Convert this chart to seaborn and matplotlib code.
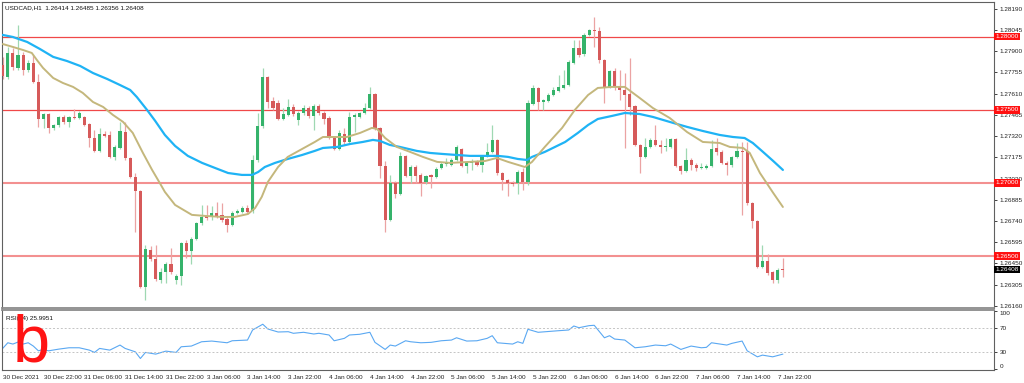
import numpy as np
import pandas as pd
import matplotlib
matplotlib.use("Agg")
import matplotlib.pyplot as plt
import matplotlib.transforms as mtransforms
import seaborn as sns

# USDCAD H1 candles (bar 0 = 30 Dec 14:00)
opens = [
    1.27806, 1.27724, 1.27888, 1.27786, 1.27874, 1.27772, 1.27820, 1.27690, 1.27437, 1.27471,
    1.27376, 1.27396, 1.27451, 1.27417, 1.27451, 1.27444, 1.27451, 1.27403, 1.27307, 1.27219,
    1.27335, 1.27328, 1.27178, 1.27239, 1.27348, 1.27171, 1.27041, 1.26945, 1.26290, 1.26542,
    1.26481, 1.26338, 1.26392, 1.26447, 1.26338, 1.26365, 1.26590, 1.26536, 1.26618, 1.26727,
    1.26775, 1.26768, 1.26795, 1.26782, 1.26754, 1.26713, 1.26795, 1.26802, 1.26829, 1.26809,
    1.27157, 1.27389, 1.27724, 1.27560, 1.27547, 1.27437, 1.27465, 1.27519, 1.27430, 1.27478,
    1.27512, 1.27458, 1.27526, 1.27478, 1.27444, 1.27307, 1.27232, 1.27335, 1.27280, 1.27451,
    1.27451, 1.27478, 1.27512, 1.27608, 1.27376, 1.27116, 1.26747, 1.27000, 1.26925, 1.27185,
    1.27048, 1.27109, 1.27055, 1.27007, 1.27055, 1.27041, 1.27103, 1.27130, 1.27123, 1.27157,
    1.27232, 1.27116, 1.27137, 1.27150, 1.27123, 1.27185, 1.27212, 1.27294, 1.27068, 1.27021,
    1.27000, 1.27000, 1.27075, 1.27007, 1.27540, 1.27649, 1.27553, 1.27560, 1.27601, 1.27628,
    1.27649, 1.27669, 1.27820, 1.27922, 1.27881, 1.28011, 1.28045, 1.28038, 1.27840, 1.27656,
    1.27765, 1.27656, 1.27635, 1.27608, 1.27526, 1.27260, 1.27178, 1.27246, 1.27294, 1.27260,
    1.27246, 1.27246, 1.27301, 1.27116, 1.27082, 1.27157, 1.27123, 1.27103, 1.27103, 1.27116,
    1.27239, 1.27212, 1.27137, 1.27123, 1.27178, 1.27219, 1.27219, 1.26864, 1.26741, 1.26426,
    1.26467, 1.26392, 1.26338, 1.26414]

closes = [
    1.27731, 1.27888, 1.27792, 1.27874, 1.27772, 1.27820, 1.27690, 1.27437, 1.27471, 1.27376,
    1.27396, 1.27451, 1.27417, 1.27451, 1.27444, 1.27478, 1.27396, 1.27307, 1.27219, 1.27335,
    1.27321, 1.27178, 1.27246, 1.27355, 1.27171, 1.27041, 1.26945, 1.26290, 1.26549, 1.26481,
    1.26344, 1.26392, 1.26447, 1.26392, 1.26365, 1.26590, 1.26536, 1.26618, 1.26727, 1.26768,
    1.26761, 1.26795, 1.26775, 1.26747, 1.26713, 1.26795, 1.26809, 1.26829, 1.26802, 1.27157,
    1.27389, 1.27724, 1.27553, 1.27512, 1.27437, 1.27471, 1.27519, 1.27471, 1.27478, 1.27512,
    1.27458, 1.27526, 1.27478, 1.27437, 1.27307, 1.27232, 1.27342, 1.27280, 1.27451, 1.27465,
    1.27478, 1.27512, 1.27608, 1.27376, 1.27116, 1.26747, 1.27000, 1.26925, 1.27185, 1.27048,
    1.27109, 1.27048, 1.27000, 1.27048, 1.27041, 1.27096, 1.27130, 1.27137, 1.27157, 1.27246,
    1.27116, 1.27137, 1.27150, 1.27123, 1.27185, 1.27212, 1.27294, 1.27068, 1.27021, 1.27000,
    1.26993, 1.27075, 1.27007, 1.27547, 1.27649, 1.27553, 1.27567, 1.27601, 1.27635, 1.27656,
    1.27669, 1.27827, 1.27922, 1.27874, 1.28011, 1.28045, 1.28038, 1.27840, 1.27656, 1.27765,
    1.27656, 1.27635, 1.27601, 1.27519, 1.27260, 1.27178, 1.27246, 1.27294, 1.27260, 1.27246,
    1.27253, 1.27301, 1.27116, 1.27082, 1.27157, 1.27123, 1.27103, 1.27109, 1.27116, 1.27232,
    1.27212, 1.27137, 1.27123, 1.27178, 1.27219, 1.27212, 1.26864, 1.26741, 1.26426, 1.26467,
    1.26385, 1.26338, 1.26406, 1.26408]

highs = [
    1.27861, 1.27929, 1.27922, 1.28079, 1.27895, 1.27840, 1.27874, 1.27745, 1.27478, 1.27478,
    1.27403, 1.27458, 1.27465, 1.27458, 1.27506, 1.27492, 1.27458, 1.27410, 1.27362, 1.27376,
    1.27355, 1.27355, 1.27260, 1.27417, 1.27417, 1.27178, 1.27068, 1.26952, 1.26577, 1.26570,
    1.26577, 1.26420, 1.26461, 1.26556, 1.26379, 1.26597, 1.26611, 1.26631, 1.26734, 1.26850,
    1.26850, 1.26843, 1.26870, 1.26864, 1.26768, 1.26809, 1.26823, 1.26843, 1.26850, 1.27191,
    1.27478, 1.27786, 1.27731, 1.27587, 1.27567, 1.27512, 1.27574, 1.27540, 1.27492, 1.27533,
    1.27526, 1.27540, 1.27540, 1.27492, 1.27458, 1.27314, 1.27362, 1.27376, 1.27485, 1.27478,
    1.27485, 1.27547, 1.27656, 1.27615, 1.27383, 1.27150, 1.27055, 1.27014, 1.27212, 1.27191,
    1.27123, 1.27123, 1.27068, 1.27055, 1.27062, 1.27109, 1.27144, 1.27171, 1.27171, 1.27260,
    1.27239, 1.27144, 1.27164, 1.27157, 1.27191, 1.27273, 1.27396, 1.27301, 1.27075, 1.27027,
    1.27014, 1.27089, 1.27103, 1.27567, 1.27669, 1.27656, 1.27574, 1.27615, 1.27656, 1.27738,
    1.27772, 1.27840, 1.27977, 1.27977, 1.28025, 1.28052, 1.28134, 1.28066, 1.27847, 1.27772,
    1.27786, 1.27772, 1.27751, 1.27854, 1.27533, 1.27266, 1.27307, 1.27307, 1.27396, 1.27294,
    1.27307, 1.27307, 1.27307, 1.27123, 1.27239, 1.27171, 1.27137, 1.27137, 1.27130, 1.27294,
    1.27307, 1.27225, 1.27150, 1.27185, 1.27273, 1.27280, 1.27280, 1.26870, 1.26747, 1.26577,
    1.26515, 1.26399, 1.26420, 1.26485]

lows = [
    1.27710, 1.27710, 1.27772, 1.27772, 1.27738, 1.27758, 1.27683, 1.27383, 1.27376, 1.27342,
    1.27362, 1.27383, 1.27403, 1.27383, 1.27437, 1.27437, 1.27389, 1.27246, 1.27212, 1.27212,
    1.27314, 1.27171, 1.27157, 1.27232, 1.27157, 1.27034, 1.26665, 1.26283, 1.26201, 1.26467,
    1.26331, 1.26317, 1.26317, 1.26379, 1.26310, 1.26303, 1.26488, 1.26447, 1.26611, 1.26713,
    1.26747, 1.26747, 1.26761, 1.26734, 1.26665, 1.26706, 1.26788, 1.26795, 1.26795, 1.26795,
    1.27144, 1.27376, 1.27512, 1.27499, 1.27430, 1.27430, 1.27458, 1.27458, 1.27396, 1.27465,
    1.27444, 1.27362, 1.27465, 1.27403, 1.27301, 1.27225, 1.27225, 1.27266, 1.27273, 1.27348,
    1.27444, 1.27471, 1.27506, 1.27362, 1.27034, 1.26665, 1.26741, 1.26898, 1.26918, 1.27041,
    1.27000, 1.27000, 1.26911, 1.26993, 1.26966, 1.27034, 1.27096, 1.27116, 1.27116, 1.27150,
    1.27109, 1.27068, 1.27089, 1.27116, 1.27075, 1.27178, 1.27205, 1.27055, 1.26952, 1.26911,
    1.26980, 1.26925, 1.26952, 1.26986, 1.27533, 1.27499, 1.27499, 1.27553, 1.27594, 1.27622,
    1.27642, 1.27663, 1.27813, 1.27861, 1.27868, 1.28004, 1.27929, 1.27820, 1.27547, 1.27649,
    1.27635, 1.27567, 1.27239, 1.27465, 1.27253, 1.27068, 1.27171, 1.27239, 1.27253, 1.27205,
    1.27219, 1.27239, 1.27109, 1.27062, 1.27075, 1.27089, 1.27082, 1.27096, 1.27096, 1.27109,
    1.27191, 1.27130, 1.27055, 1.27109, 1.27171, 1.26782, 1.26850, 1.26693, 1.26420, 1.26420,
    1.26372, 1.26317, 1.26317, 1.26356]

# slow moving average (blue), read at these bar positions
slow_bars = [0, 2.0, 4.8, 7.3, 9.9, 12.6, 15.2, 17.7, 20.5, 23.0,
             25.0, 26.3, 28.3, 29.9, 31.8, 33.8, 36.3, 39.1, 41.6, 44.2,
             46.9, 48.9, 50.1, 51.4, 53.4, 55.9, 58.7, 61.2, 62.8, 65.6,
             68.1, 70.6, 72.6, 74.0, 75.9, 77.9, 81.2, 83.8, 86.3, 89.1,
             91.6, 94.6, 97.1, 99.1, 101.0, 102.8, 103.8, 106.3, 110.3, 112.8,
             114.8, 116.7, 119.5, 122.0, 124.9, 127.5, 130.8, 134.2, 137.3, 140.6,
             143.2, 145.5, 147.1, 149.1, 151.1, 153]
slow_ma = [1.28011, 1.27997, 1.27963, 1.27915, 1.27861, 1.27833, 1.27799, 1.27751, 1.27710, 1.27669,
           1.27635, 1.27587, 1.27499, 1.27424, 1.27328, 1.27253, 1.27185, 1.27137, 1.27103, 1.27068,
           1.27055, 1.27055, 1.27075, 1.27109, 1.27137, 1.27164, 1.27191, 1.27219, 1.27239, 1.27246,
           1.27266, 1.27280, 1.27294, 1.27287, 1.27260, 1.27246, 1.27219, 1.27205, 1.27198, 1.27191,
           1.27185, 1.27185, 1.27185, 1.27178, 1.27164, 1.27157, 1.27178, 1.27212, 1.27280, 1.27342,
           1.27396, 1.27437, 1.27458, 1.27478, 1.27471, 1.27451, 1.27417, 1.27383, 1.27355, 1.27328,
           1.27314, 1.27307, 1.27273, 1.27212, 1.27150, 1.27089]

# fast moving average (olive)
fast_bars = [0, 2.0, 4.0, 5.7, 6.7, 7.9, 9.9, 11.8, 13.8, 15.7,
             17.7, 19.7, 21.6, 23.6, 25.5, 27.5, 29.3, 30.8, 31.8, 33.8,
             37.1, 39.7, 43.0, 45.5, 48.1, 49.5, 50.8, 52.0, 54.0, 55.9,
             58.7, 61.2, 62.8, 64.8, 67.5, 70.1, 72.4, 73.4, 75.0, 77.3,
             79.9, 82.4, 85.2, 87.7, 91.6, 94.6, 96.9, 99.1, 102.4, 103.8,
             106.3, 109.7, 112.2, 114.8, 116.7, 119.5, 122.0, 124.9, 127.5, 130.8,
             134.2, 137.3, 140.6, 142.6, 145.2, 146.5, 148.5, 151.1, 153]
fast_ma = [1.27949, 1.27929, 1.27908, 1.27888, 1.27840, 1.27786, 1.27717, 1.27683, 1.27656, 1.27615,
           1.27553, 1.27519, 1.27465, 1.27417, 1.27342, 1.27205, 1.27089, 1.27000, 1.26939, 1.26850,
           1.26782, 1.26775, 1.26768, 1.26768, 1.26788, 1.26829, 1.26905, 1.27007, 1.27109, 1.27178,
           1.27232, 1.27280, 1.27314, 1.27314, 1.27314, 1.27342, 1.27376, 1.27369, 1.27307, 1.27246,
           1.27212, 1.27178, 1.27144, 1.27137, 1.27144, 1.27150, 1.27171, 1.27144, 1.27109, 1.27144,
           1.27246, 1.27376, 1.27499, 1.27601, 1.27649, 1.27656, 1.27656, 1.27581, 1.27512, 1.27444,
           1.27348, 1.27280, 1.27273, 1.27246, 1.27239, 1.27205, 1.27068, 1.26932, 1.26836]

# RSI(14)
rsi_bars = [0, 1, 2, 3, 4, 5, 6, 7, 8, 9, 11, 13, 15, 17, 18, 19, 21, 23, 24, 26,
            27, 28, 30, 32, 34, 35, 37, 39, 41, 44, 45, 48, 49, 51, 52, 54, 56, 57, 59, 61,
            62, 64, 65, 67, 68, 70, 72, 73, 75, 76, 77, 79, 80, 82, 84, 86, 88, 89, 91, 93,
            95, 96, 97, 100, 101, 102, 103, 105, 109, 111, 112, 113, 115, 116, 118, 119, 120, 122, 124, 126,
            128, 130, 131, 133, 135, 137, 138, 139, 142, 143, 145, 146, 148, 149, 151, 153]
rsi_vals = [35.7, 45.3, 43.1, 46.5, 43.1, 45.3, 39.7, 31.6, 34.0, 31.6, 34.5, 36.8, 36.8, 32.8, 28.9, 35.7, 32.8, 41.4, 35.7, 29.9,
            18.6, 28.9, 26.0, 31.1, 28.9, 38.5, 39.7, 47.0, 48.2, 45.3, 48.7, 49.9, 67.0, 76.8, 68.7, 63.6, 64.1, 61.4, 63.1, 60.2,
            61.4, 58.5, 48.7, 52.8, 58.5, 59.7, 63.1, 46.0, 34.0, 41.4, 39.7, 48.7, 47.0, 45.3, 46.0, 48.7, 49.9, 53.8, 48.2, 48.7,
            52.8, 57.3, 45.3, 43.1, 47.0, 44.3, 68.2, 63.1, 65.8, 67.0, 73.8, 70.9, 74.4, 75.0, 53.8, 57.3, 51.6, 49.9, 36.8, 38.5,
            41.4, 40.2, 43.1, 34.0, 39.7, 36.8, 37.5, 45.3, 41.4, 44.3, 48.2, 31.6, 21.4, 24.3, 21.4, 26.0]

levels = [1.28000, 1.27500, 1.27000, 1.26500]
price_ticks = [1.28190, 1.28045, 1.27900, 1.27755, 1.27610, 1.27465, 1.27320, 1.27175,
               1.27030, 1.26885, 1.26740, 1.26595, 1.26450, 1.26305, 1.26160]
date_bars = list(range(0, 153, 8))
date_labels = ["30 Dec 2021", "30 Dec 22:00", "31 Dec 06:00", "31 Dec 14:00", "31 Dec 22:00",
               "3 Jan 06:00", "3 Jan 14:00", "3 Jan 22:00", "4 Jan 06:00", "4 Jan 14:00",
               "4 Jan 22:00", "5 Jan 06:00", "5 Jan 14:00", "5 Jan 22:00", "6 Jan 06:00",
               "6 Jan 14:00", "6 Jan 22:00", "7 Jan 06:00", "7 Jan 14:00", "7 Jan 22:00"]

sns.set_style("white")
plt.rcParams['font.family'] = ['Liberation Sans', 'DejaVu Sans']
FS = 4.6

fig = plt.figure(figsize=(10.24, 3.83), dpi=100)
ax = fig.add_axes([2 / 1024, 75 / 383, 992 / 1024, 306 / 383])
ax_rsi = fig.add_axes([2 / 1024, 13 / 383, 992 / 1024, 60 / 383])

# candles
df = pd.DataFrame({'bar': np.arange(len(opens)), 'open': opens, 'high': highs,
                   'low': lows, 'close': closes})
up = df['close'] >= df['open']
body_col = np.where(up, '#35b36b', '#d65a5a')
wick_col = np.where(up, '#9fd8b2', '#eba3a3')
ax.vlines(df['bar'], df['low'], df['high'], colors=wick_col, lw=0.9, zorder=2)
body_bottom = np.minimum(df['open'], df['close'])
body_h = np.maximum((df['close'] - df['open']).abs(), 0.00003)
ax.bar(df['bar'], body_h, bottom=body_bottom, width=0.62, color=body_col, lw=0, zorder=3)

# moving averages
sns.lineplot(x=slow_bars, y=slow_ma, ax=ax, color='#1fb3f5', lw=1.6, sort=False, zorder=4)
sns.lineplot(x=fast_bars, y=fast_ma, ax=ax, color='#c4b77c', lw=1.4, sort=False, zorder=4)

# horizontal levels
for lv in levels:
    if lv >= 1.275:
        ax.axhline(lv, color='#f04848', lw=0.9, zorder=1)
    else:
        ax.axhline(lv, color='#f39090', lw=1.5, zorder=1)

ax.set_xlim(-0.14, 194.4)
ax.set_ylim(1.26146, 1.28236)
ax.set_xlabel('')
ax.set_ylabel('')
ax.set_xticks(date_bars)
ax.tick_params(axis='x', labelbottom=False, length=0)
ax.yaxis.tick_right()
ax.set_yticks(price_ticks)
ax.set_yticklabels([f"{t:.5f}" for t in price_ticks])
ax.tick_params(axis='y', labelsize=FS, length=2.5, width=0.6, pad=1.5, colors='#222222')

trans = mtransforms.blended_transform_factory(ax.transAxes, ax.transData)
for lv in levels:
    ax.text(1.0015, lv, f"{lv:.5f}", transform=trans, ha='left', va='center', fontsize=FS,
            color='white', clip_on=False, zorder=10,
            bbox=dict(boxstyle='square,pad=0.2', fc='#ff1010', ec='none'))
ax.text(1.0015, closes[-1], f"{closes[-1]:.5f}", transform=trans, ha='left', va='center',
        fontsize=FS, color='white', clip_on=False, zorder=10,
        bbox=dict(boxstyle='square,pad=0.2', fc='#000000', ec='none'))

ax.text(0.003, 0.988, f"USDCAD,H1  {opens[-1]:.5f} {highs[-1]:.5f} {lows[-1]:.5f} {closes[-1]:.5f}",
        transform=ax.transAxes, ha='left', va='top', fontsize=FS, color='#111111')

for side, sp in ax.spines.items():
    sp.set_color('#606060')
    sp.set_linewidth(0.8)
ax.spines['bottom'].set_color('#8a8a8a')
ax.spines['bottom'].set_linewidth(1.3)

# RSI panel
sns.lineplot(x=rsi_bars, y=rsi_vals, ax=ax_rsi, color='#5aa8f2', lw=0.8, sort=False)
for lv in (70, 30):
    ax_rsi.axhline(lv, color='#c4c4c4', lw=0.7, ls=(0, (2, 2)))
ax_rsi.set_xlim(-0.14, 194.4)
ax_rsi.set_ylim(-1, 101)
ax_rsi.yaxis.tick_right()
ax_rsi.set_yticks([0, 30, 70, 100])
ax_rsi.set_yticklabels(["0", "30", "70", "100"])
ax_rsi.tick_params(axis='y', labelsize=FS, length=2.5, width=0.6, pad=1.5, colors='#222222')
labs = ax_rsi.get_yticklabels()
labs[0].set_va('bottom')
labs[3].set_va('top')
ax_rsi.set_xticks(date_bars)
ax_rsi.set_xticklabels(date_labels)
ax_rsi.tick_params(axis='x', labelsize=FS, length=2, width=0.6, pad=1.5, colors='#222222')
for lbl in ax_rsi.get_xticklabels():
    lbl.set_ha('left')
ax_rsi.set_xlabel('')
ax_rsi.set_ylabel('')
ax_rsi.text(0.004, 0.9, "RSI(14) 25.9951", transform=ax_rsi.transAxes, ha='left', va='top',
            fontsize=FS, color='#111111')
for side, sp in ax_rsi.spines.items():
    sp.set_color('#606060')
    sp.set_linewidth(0.8)
ax_rsi.spines['top'].set_color('#8a8a8a')
ax_rsi.spines['top'].set_linewidth(1.3)

# red hand-drawn mark
fig.text(13 / 1024, 21 / 383, 'b', color='#ff1414', fontsize=48, ha='left', va='baseline',
         zorder=20)

fig.savefig('out.png', dpi=100, facecolor='white')
